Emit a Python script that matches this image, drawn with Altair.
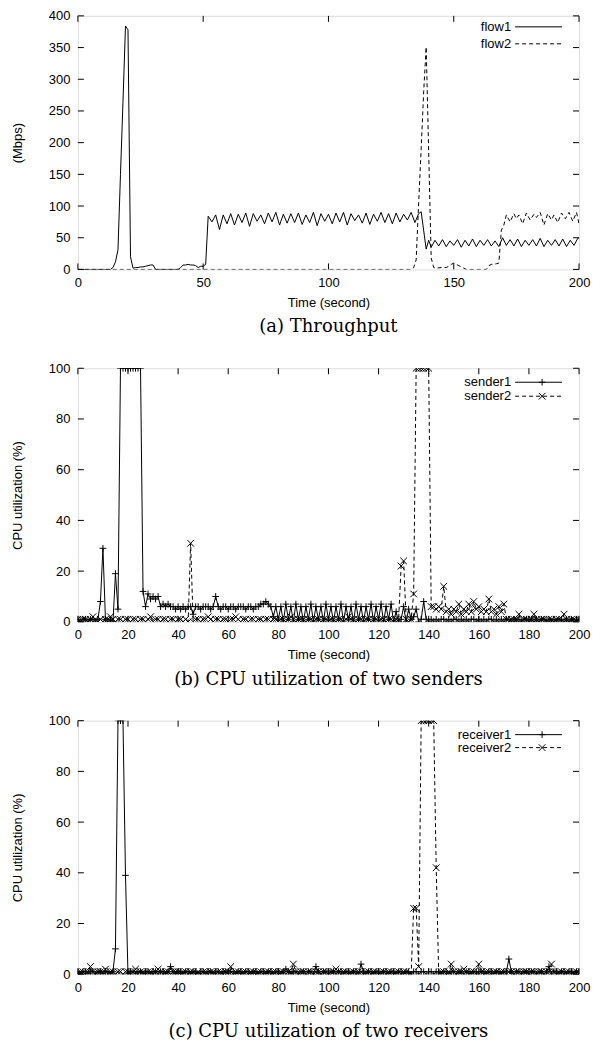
import altair as alt
import pandas as pd

FONT = "Liberation Sans"
SERIF = "DejaVu Serif"
W, H = 502, 254
TL = 6  # inner tick length

# ---------------- (a) Throughput ----------------
flow1_t = [0, 5, 10, 13, 14, 15, 16, 17, 18, 19, 20, 21, 22, 23, 24, 25, 26, 27, 28, 29, 30, 31, 35, 40, 41, 42, 43, 44, 45, 46, 47, 48, 49, 50, 51,
           52, 53.5, 55, 56.5, 58, 59.5, 61, 62.5, 64, 65.5, 67, 68.5, 70, 71.5, 73, 74.5, 76, 77.5, 79, 80.5, 82, 83.5, 85, 86.5,
           88, 89.5, 91, 92.5, 94, 95.5, 97, 98.5, 100, 101.5, 103, 104.5, 106, 107.5, 109, 110.5, 112, 113.5, 115, 116.5,
           118, 119.5, 121, 122.5, 124, 125.5, 127, 128.5, 130, 131.5, 133, 134.5, 136, 137, 139, 140,
           141, 142.5, 144, 145.5, 147, 148.5, 150, 151.5, 153, 154.5, 156, 157.5, 159, 160.5, 162, 163.5, 165, 166.5, 168, 169.5,
           171, 172.5, 174, 175.5, 177, 178.5, 180, 181.5, 183, 184.5, 186, 187.5, 189, 190.5, 192, 193.5, 195, 196.5, 198, 199.5, 200]
flow1_v = [0, 0, 0, 0, 3, 12, 31, 150, 265, 384, 378, 20, 2, 3, 3, 4, 4, 5, 6, 7, 7, 0, 0, 0, 3, 7, 7, 8, 7, 7, 6, 3, 5, 5, 8,
           84, 75, 86, 63, 86, 72, 88, 70, 87, 74, 89, 68, 88, 76, 86, 72, 89, 75, 90, 70, 87, 73, 88, 74,
           89, 71, 86, 74, 90, 69, 88, 76, 87, 72, 89, 75, 90, 70, 88, 77, 86, 73, 89, 71,
           87, 76, 90, 74, 88, 72, 89, 75, 87, 78, 90, 74, 88, 91, 32, 46,
           35, 46, 37, 47, 36, 45, 38, 47, 35, 46, 37, 48, 36, 46, 38, 47, 37, 45, 36, 50,
           38, 47, 37, 48, 36, 46, 38, 47, 37, 49, 36, 46, 38, 47, 37, 48, 36, 46, 38, 49, 50]
flow2_t = [0, 50, 100, 133, 134, 135, 136, 137, 138, 139, 140, 141, 142, 143, 145, 147, 148, 149, 150, 151, 152, 153, 154, 155, 160, 163,
           164, 165, 166, 167, 168, 169, 170, 171, 172.5, 174, 175, 176, 177.5, 179, 180.5, 182, 183, 184.5, 186, 187.5, 189, 190,
           191.5, 193, 194.5, 196, 197.5, 199, 200]
flow2_v = [0, 0, 0, 0, 3, 15, 105, 190, 280, 351, 185, 18, 3, 2, 3, 3, 5, 8, 10, 8, 6, 4, 2, 0, 0, 0,
           6, 8, 8, 9, 10, 62, 70, 86, 75, 88, 80, 86, 72, 89, 78, 87, 82, 90, 70, 88, 78, 86,
           74, 89, 80, 90, 76, 90, 72]
a_xticks = [0, 50, 100, 150, 200]
a_yticks = [0, 50, 100, 150, 200, 250, 300, 350, 400]

# ---------------- (b) senders, (c) receivers (1 s samples, t = 0..200) ----------------
sec = list(range(201))
sender1 = [1, 0, 1, 1, 0, 1, 1, 0, 1, 8,
           29, 1, 0, 1, 0, 19, 5, 100, 100, 100,
           100, 100, 100, 100, 100, 100, 12, 6, 11, 9,
           10, 9, 10, 6, 7, 6, 7, 6, 6, 5,
           6, 5, 6, 5, 6, 6, 3, 6, 6, 5,
           6, 6, 6, 5, 6, 10, 6, 5, 6, 6,
           5, 6, 6, 5, 6, 6, 6, 5, 6, 6,
           5, 6, 6, 7, 7, 8, 7, 6, 2, 6,
           1, 6, 0, 7, 1, 6, 0, 7, 1, 6,
           0, 6, 1, 7, 0, 6, 1, 6, 0, 7,
           1, 6, 0, 6, 1, 7, 0, 6, 1, 6,
           0, 7, 1, 6, 0, 6, 1, 7, 0, 6,
           1, 7, 0, 6, 1, 7, 0, 4, 0, 1,
           6, 0, 5, 1, 2, 5, 0, 1, 8, 1,
           0, 1, 0, 1, 0, 1, 1, 0, 1, 0,
           1, 1, 0, 1, 0, 1, 0, 1, 1, 0,
           1, 0, 1, 0, 1, 1, 0, 1, 0, 1,
           0, 1, 1, 0, 1, 0, 1, 0, 1, 1,
           0, 1, 0, 1, 0, 1, 1, 0, 1, 0,
           1, 0, 1, 1, 0, 1, 0, 1, 0, 1,
           1]
sender2 = [1, 0, 1, 1, 0, 1, 2, 1, 0, 1,
           0, 1, 1, 2, 1, 0, 1, 1, 0, 1,
           1, 0, 1, 1, 0, 1, 1, 0, 1, 2,
           0, 1, 1, 0, 1, 1, 0, 1, 1, 0,
           1, 1, 0, 1, 0, 31, 0, 1, 1, 0,
           1, 1, 2, 1, 0, 1, 1, 0, 1, 1,
           0, 1, 1, 2, 1, 0, 1, 1, 0, 1,
           1, 0, 1, 1, 0, 1, 1, 0, 1, 1,
           0, 1, 1, 0, 1, 2, 1, 0, 1, 1,
           1, 0, 1, 1, 0, 1, 1, 0, 1, 1,
           0, 1, 1, 0, 1, 1, 0, 1, 2, 1,
           1, 0, 1, 1, 0, 1, 1, 0, 1, 1,
           0, 1, 1, 0, 1, 1, 0, 1, 1, 22,
           24, 1, 0, 1, 11, 100, 100, 100, 100, 100,
           100, 6, 6, 5, 6, 5, 14, 4, 5, 3,
           5, 4, 7, 3, 5, 4, 7, 4, 8, 5,
           6, 4, 5, 4, 9, 4, 5, 3, 6, 4,
           7, 1, 0, 1, 1, 1, 3, 0, 1, 1,
           0, 1, 3, 1, 0, 1, 1, 0, 1, 1,
           0, 1, 1, 0, 3, 1, 0, 1, 1, 0,
           1]
receiver1 = [1, 0, 1, 1, 0, 1, 1, 0, 1, 1,
             0, 1, 1, 0, 1, 10, 100, 100, 100, 39,
             0, 1, 1, 0, 1, 1, 0, 1, 1, 0,
             1, 1, 0, 1, 1, 0, 1, 3, 1, 0,
             1, 1, 0, 1, 1, 0, 1, 1, 0, 1,
             1, 0, 1, 1, 0, 1, 1, 0, 1, 1,
             0, 1, 1, 0, 1, 1, 0, 1, 1, 0,
             1, 1, 0, 1, 1, 0, 1, 1, 0, 1,
             1, 0, 1, 2, 1, 0, 1, 1, 0, 1,
             1, 0, 1, 1, 0, 3, 1, 0, 1, 1,
             0, 1, 1, 0, 1, 1, 0, 1, 1, 0,
             1, 1, 0, 4, 1, 0, 1, 1, 0, 1,
             1, 0, 1, 1, 0, 1, 1, 0, 1, 1,
             0, 1, 1, 0, 1, 1, 0, 1, 1, 0,
             1, 1, 0, 1, 1, 0, 1, 1, 0, 1,
             1, 0, 1, 1, 0, 1, 1, 0, 1, 1,
             0, 1, 1, 0, 1, 1, 0, 1, 1, 0,
             1, 1, 6, 1, 0, 1, 1, 0, 1, 1,
             0, 1, 1, 0, 1, 1, 0, 1, 3, 0,
             1, 1, 0, 1, 1, 0, 1, 1, 0, 1,
             1]
receiver2 = [0, 1, 1, 0, 1, 3, 1, 0, 1, 1,
             1, 2, 0, 1, 1, 0, 1, 1, 0, 1,
             1, 0, 1, 2, 0, 1, 1, 0, 1, 1,
             0, 1, 2, 1, 0, 1, 1, 0, 1, 1,
             1, 0, 1, 1, 0, 1, 1, 0, 1, 0,
             1, 1, 0, 1, 1, 0, 1, 1, 0, 1,
             1, 3, 0, 1, 1, 0, 1, 1, 0, 1,
             1, 0, 1, 1, 0, 1, 1, 0, 1, 1,
             0, 1, 1, 0, 1, 1, 4, 1, 0, 1,
             1, 0, 1, 1, 0, 1, 1, 0, 1, 1,
             0, 1, 1, 2, 1, 0, 1, 1, 0, 1,
             1, 0, 1, 1, 0, 1, 1, 0, 1, 1,
             0, 1, 1, 0, 1, 1, 0, 1, 1, 0,
             1, 1, 0, 0, 26, 26, 3, 100, 100, 100,
             100, 100, 100, 42, 0, 1, 1, 0, 1, 4,
             1, 0, 1, 1, 2, 1, 0, 1, 1, 0,
             4, 1, 0, 1, 1, 0, 1, 1, 0, 1,
             1, 0, 1, 1, 0, 1, 1, 0, 1, 1,
             0, 1, 1, 0, 1, 1, 0, 1, 1, 4,
             1, 0, 1, 1, 0, 1, 1, 0, 1, 1,
             0]
cpu_xticks = [0, 20, 40, 60, 80, 100, 120, 140, 160, 180, 200]
cpu_yticks = [0, 20, 40, 60, 80, 100]

PLUS = "M-1,0L1,0M0,-1L0,1"
CROSS = "M-1,-1L1,1M-1,1L1,-1"
DASH = [4, 3]


def panel(series, xticks, yticks, ydom, ytitle, caption, legend_y):
    xs = alt.Scale(domain=[0, 200], nice=False, zero=False)
    ys = alt.Scale(domain=ydom, nice=False)
    xaxis = alt.Axis(values=xticks, ticks=False, grid=False, domain=False, labelFont=FONT,
                     labelFontSize=13, labelColor="black", labelPadding=7, title="Time (second)",
                     titleFont=FONT, titleFontSize=13, titleFontWeight="normal", titleColor="black",
                     titlePadding=7, labelFlush=False)
    yaxis = alt.Axis(values=yticks, ticks=False, grid=False, domain=False, labelFont=FONT,
                     labelFontSize=13, labelColor="black", labelPadding=8, title=ytitle,
                     titleFont=FONT, titleFontSize=13, titleFontWeight="normal", titleColor="black",
                     titlePadding=24, labelFlush=False)

    def X(field):
        return alt.X(field, scale=xs, axis=xaxis)

    def Y(field):
        return alt.Y(field, scale=ys, axis=yaxis)

    layers = []
    for i, s in enumerate(series):
        df = pd.DataFrame({"t": s["t"], "v": s["v"]})
        base = alt.Chart(df)
        line_kw = dict(color="black", strokeWidth=1, clip=True)
        if s["dash"]:
            line_kw["strokeDash"] = DASH
        layers.append(base.mark_line(**line_kw).encode(x=X("t:Q"), y=Y("v:Q")))
        if s["shape"]:
            layers.append(base.mark_point(shape=s["shape"], filled=False, color="black", size=45,
                                          strokeWidth=1, opacity=1, clip=True).encode(
                x=X("t:Q"), y=Y("v:Q")))
        # legend entry
        ly = legend_y[i]
        lab = pd.DataFrame({"label": [s["name"]]})
        layers.append(alt.Chart(lab).mark_text(align="right", baseline="middle", font=FONT, fontSize=13,
                                               color="black").encode(
            text="label:N", x=alt.value(434), y=alt.value(ly)))
        rkw = dict(color="black", strokeWidth=1)
        if s["dash"]:
            rkw["strokeDash"] = DASH
        layers.append(alt.Chart(lab).mark_rule(**rkw).encode(
            x=alt.value(438), x2=alt.value(485), y=alt.value(ly)))
        if s["shape"]:
            layers.append(alt.Chart(lab).mark_point(shape=s["shape"], filled=False, color="black",
                                                    size=45, strokeWidth=1, opacity=1).encode(
                x=alt.value(465), y=alt.value(ly)))
    # inner ticks on all four sides
    xt = alt.Chart(pd.DataFrame({"t": xticks}))
    yt = alt.Chart(pd.DataFrame({"v": yticks}))
    tk = dict(color="black", strokeWidth=1)
    layers.append(xt.mark_rule(**tk).encode(x=X("t:Q"), y=alt.value(H), y2=alt.value(H - TL)))
    layers.append(xt.mark_rule(**tk).encode(x=X("t:Q"), y=alt.value(0), y2=alt.value(TL)))
    layers.append(yt.mark_rule(**tk).encode(y=Y("v:Q"), x=alt.value(0), x2=alt.value(TL)))
    layers.append(yt.mark_rule(**tk).encode(y=Y("v:Q"), x=alt.value(W), x2=alt.value(W - TL)))
    return alt.layer(*layers).properties(
        width=W, height=H,
        title=alt.TitleParams(caption, orient="bottom", font=SERIF, fontSize=18, fontWeight="normal",
                              color="black", offset=9))


pa = panel([
    {"t": flow1_t, "v": flow1_v, "name": "flow1", "dash": False, "shape": None},
    {"t": flow2_t, "v": flow2_v, "name": "flow2", "dash": True, "shape": None},
], a_xticks, a_yticks, [0, 400], "(Mbps)", "(a) Throughput", [11, 28])

pb = panel([
    {"t": sec, "v": sender1, "name": "sender1", "dash": False, "shape": PLUS},
    {"t": sec, "v": sender2, "name": "sender2", "dash": True, "shape": CROSS},
], cpu_xticks, cpu_yticks, [0, 100], "CPU utilization (%)", "(b) CPU utilization of two senders", [14, 28])

pc = panel([
    {"t": sec, "v": receiver1, "name": "receiver1", "dash": False, "shape": PLUS},
    {"t": sec, "v": receiver2, "name": "receiver2", "dash": True, "shape": CROSS},
], cpu_xticks, cpu_yticks, [0, 100], "CPU utilization (%)", "(c) CPU utilization of two receivers", [14, 27])

chart = alt.vconcat(pa, pb, pc, spacing=24).properties(
    padding={"left": 2, "top": 0, "right": 5, "bottom": 0}
).configure_view(stroke="black", strokeWidth=1).configure(background="white")

chart.save("out.html", embed_options={"renderer": "svg", "actions": False})
